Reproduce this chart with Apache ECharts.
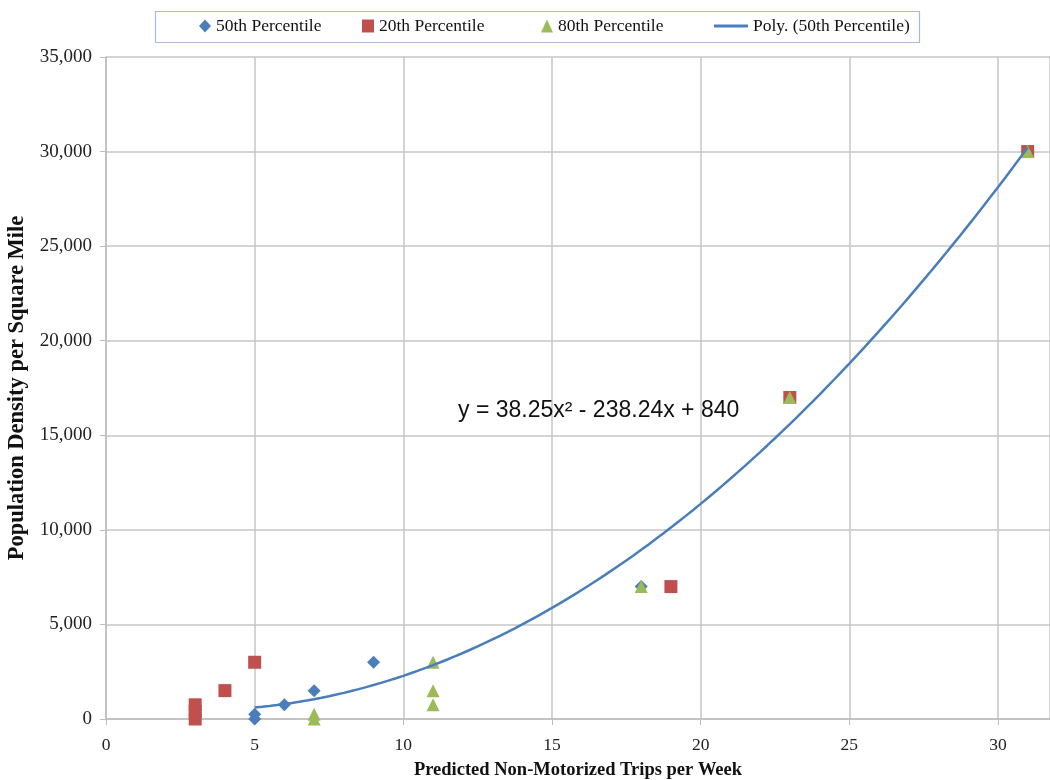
<!DOCTYPE html>
<html>
<head>
<meta charset="utf-8">
<script src="https://cdn.jsdelivr.net/npm/echarts@6/dist/echarts.min.js"></script>
<style>html,body{margin:0;padding:0;background:#fff}#c{width:1050px;height:780px}</style>
</head>
<body>
<div id="c"></div>
<script>
// Data
var p50X = [5, 5, 6, 7, 9, 18, 23, 31];
var p50Y = [0, 250, 750, 1500, 3000, 7000, 17000, 30000];
var p20X = [3, 3, 3, 4, 5, 19, 23, 31];
var p20Y = [0, 400, 750, 1500, 3000, 7000, 17000, 30000];
var p80X = [7, 7, 11, 11, 11, 18, 23, 31];
var p80Y = [0, 250, 750, 1500, 3000, 7000, 17000, 30000];
// Polynomial trendline coefficients (a x^2 + b x + c) as printed on the chart
var polyCoef = [38.25, -238.24, 840];
var polyRange = [5, 31];
var seriesNames = ['50th Percentile', '20th Percentile', '80th Percentile', 'Poly. (50th Percentile)'];
var equationText = 'y = 38.25x² - 238.24x + 840';
var xTitle = 'Predicted Non-Motorized Trips per Week';
var yTitle = 'Population Density per Square Mile';

function pairs(xs, ys) { return xs.map(function (x, i) { return [x, ys[i]]; }); }
var trend = [];
for (var x = polyRange[0]; x <= polyRange[1] + 1e-9; x += 0.25) {
  trend.push([x, polyCoef[0] * x * x + polyCoef[1] * x + polyCoef[2]]);
}

var blue = '#4a7ebb', red = '#c0504d', green = '#9bbb59';
var serif = '"Liberation Serif", "Times New Roman", serif';
var legendText = { fontFamily: serif, fontSize: 17.5, color: '#111' };

var chart = echarts.init(document.getElementById('c'), null, { renderer: 'canvas' });
chart.setOption({
  animation: false,
  backgroundColor: '#fff',
  grid: { left: 106, right: 0, top: 57, bottom: 61, containLabel: false, outerBoundsMode: 'none' },
  legend: [
    { data: [seriesNames[0]], left: 199, top: 17, itemWidth: 12, itemHeight: 13, padding: 0, textStyle: legendText },
    { data: [seriesNames[1]], left: 362, top: 17, itemWidth: 12, itemHeight: 13, padding: 0, textStyle: legendText },
    { data: [seriesNames[2]], left: 541, top: 17, itemWidth: 12, itemHeight: 13, padding: 0, textStyle: legendText },
    { data: [{ name: seriesNames[3], icon: 'path://M0,0 L34,0 L34,3 L0,3 Z' }], left: 714, top: 17, itemWidth: 34, itemHeight: 13, padding: 0, textStyle: legendText }
  ],
  graphic: [
    { type: 'rect', left: 153, top: 9, shape: { width: 764, height: 31 }, style: { fill: 'none', stroke: '#a9bbd8', lineWidth: 1.2 }, z: 0 },
    { type: 'text', left: 458, top: 399, style: { text: equationText, fontFamily: '"Liberation Sans", Arial, sans-serif', fontSize: 23, fill: '#111' }, z: 10 }
  ],
  xAxis: {
    type: 'value', min: 0, max: 31.75, interval: 5,
    name: xTitle, nameLocation: 'middle', nameGap: 42,
    nameTextStyle: { fontFamily: serif, fontSize: 18.5, fontWeight: 'bold', color: '#111' },
    axisLine: { show: true, lineStyle: { color: '#bdbdbd', width: 1.5 } },
    axisTick: { show: true, length: 6, lineStyle: { color: '#bdbdbd' } },
    axisLabel: { showMaxLabel: false, margin: 17, fontFamily: serif, fontSize: 17.5, color: '#222' },
    splitLine: { show: true, lineStyle: { color: '#c6c6c6', width: 1.5 } }
  },
  yAxis: {
    type: 'value', min: 0, max: 35000, interval: 5000,
    name: yTitle, nameLocation: 'middle', nameGap: 70,
    nameTextStyle: { fontFamily: serif, fontSize: 22.5, fontWeight: 'bold', color: '#111' },
    axisLine: { show: true, lineStyle: { color: '#bdbdbd', width: 1.5 } },
    axisTick: { show: true, length: 6, lineStyle: { color: '#bdbdbd' } },
    axisLabel: { margin: 14, fontFamily: serif, fontSize: 19, color: '#222',
      formatter: function (v) { return v.toLocaleString('en-US'); } },
    splitLine: { show: true, lineStyle: { color: '#c6c6c6', width: 1.5 } }
  },
  series: [
    { name: seriesNames[0], type: 'scatter', symbol: 'diamond', symbolSize: 13, itemStyle: { color: blue, opacity: 1 }, data: pairs(p50X, p50Y), z: 2 },
    { name: seriesNames[1], type: 'scatter', symbol: 'rect', symbolSize: 13, itemStyle: { color: red, opacity: 1 }, data: pairs(p20X, p20Y), z: 3 },
    { name: seriesNames[2], type: 'scatter', symbol: 'triangle', symbolSize: 13, itemStyle: { color: green, opacity: 1 }, data: pairs(p80X, p80Y), z: 4 },
    { name: seriesNames[3], type: 'line', symbol: 'none', showSymbol: false, smooth: false, lineStyle: { color: blue, width: 2.5 }, itemStyle: { color: blue }, data: trend, z: 5 }
  ]
});
</script>
</body>
</html>
